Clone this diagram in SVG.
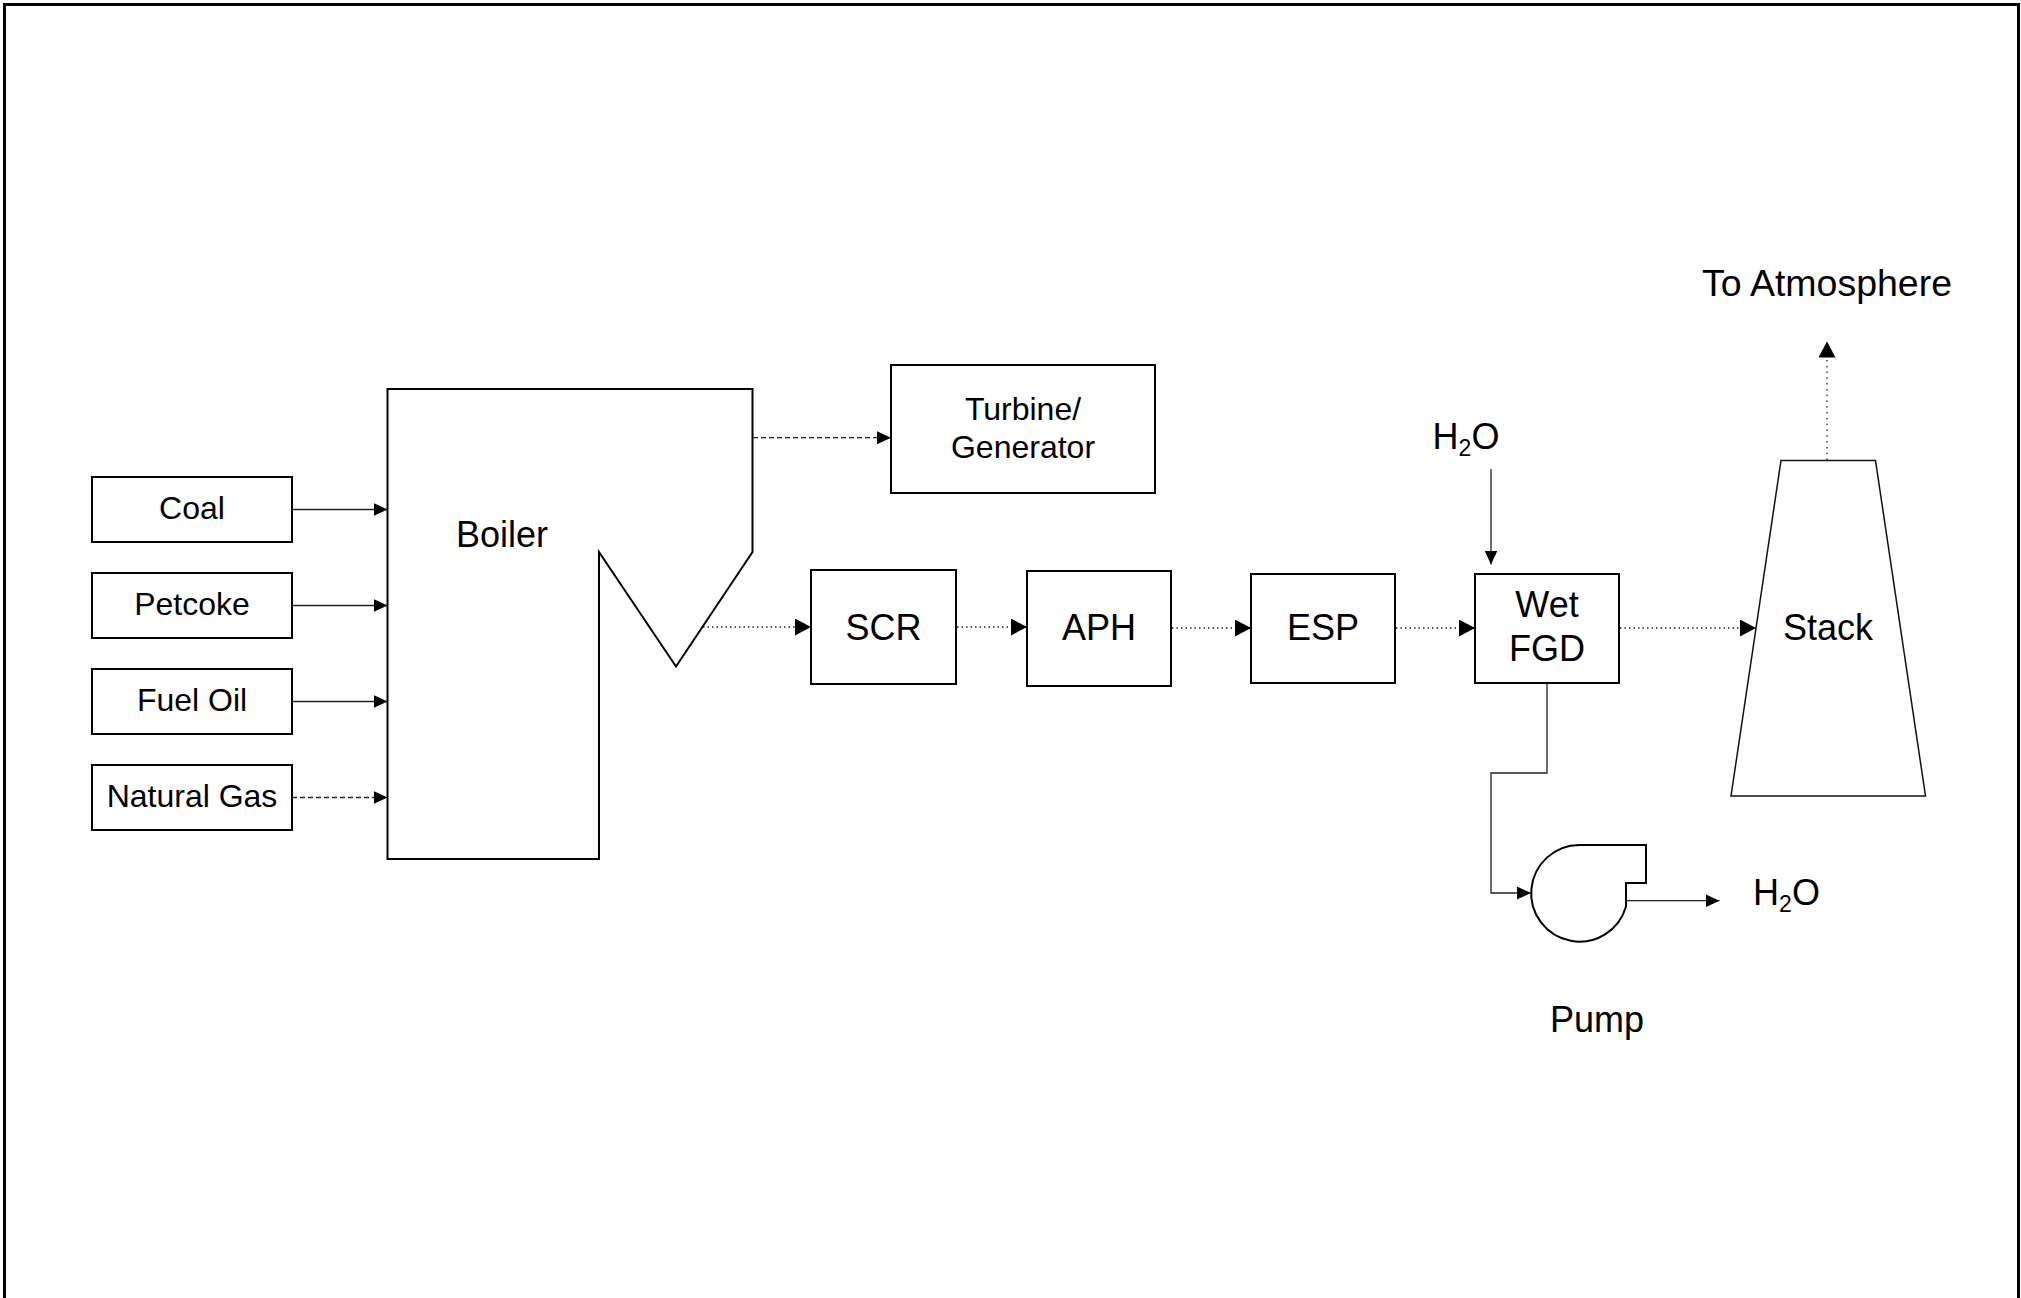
<svg xmlns="http://www.w3.org/2000/svg" width="2021" height="1298" viewBox="0 0 2021 1298">
<style>
.box{fill:#fff;stroke:#000;stroke-width:2}
.thin{fill:#fff;stroke:#111;stroke-width:1.5}
.t{font-family:"Liberation Sans",Arial,sans-serif;fill:#000;text-anchor:middle}
.f32{font-size:32px}
.f36{font-size:36px}
.ln{fill:none;stroke:#222;stroke-width:1.3}
.dash{stroke-dasharray:5 3}
.dot{stroke-dasharray:1.5 3}
.dotv{stroke-dasharray:1.5 4.3}
</style>
<defs>
<marker id="as" markerUnits="userSpaceOnUse" markerWidth="14" markerHeight="14" refX="14" refY="7" orient="auto"><path d="M0,0.5 L14,7 L0,13.5 Z" fill="#000"/></marker>
<marker id="al" markerUnits="userSpaceOnUse" markerWidth="16" markerHeight="17" refX="16" refY="8.5" orient="auto"><path d="M0,0 L16,8.5 L0,17 Z" fill="#000"/></marker>
</defs>
<rect x="0" y="0" width="2021" height="1298" fill="#fff"/>
<rect x="4.5" y="4.5" width="2014" height="1300" fill="none" stroke="#000" stroke-width="3"/>

<g id="connectors">
<path class="ln" d="M292,509.5 H387.5" marker-end="url(#as)"/>
<path class="ln" d="M292,605.5 H387.5" marker-end="url(#as)"/>
<path class="ln" d="M292,701.5 H387.5" marker-end="url(#as)"/>
<path class="ln dash" d="M292,797.5 H387.5" marker-end="url(#as)"/>
<path class="ln dash" d="M753,437.7 H891" marker-end="url(#as)"/>
<path class="ln dot" d="M703,627 H811" marker-end="url(#al)"/>
<path class="ln dot" d="M957,627 H1027" marker-end="url(#al)"/>
<path class="ln dot" d="M1172,628 H1251" marker-end="url(#al)"/>
<path class="ln dot" d="M1396,628 H1475" marker-end="url(#al)"/>
<path class="ln dot" d="M1620,628 H1756" marker-end="url(#al)"/>
<path class="ln dotv" d="M1827,460 V341.5" marker-end="url(#al)"/>
<path class="ln" d="M1491,469 V564.5" stroke="#444" marker-end="url(#as)"/>
<path class="ln" d="M1547,683 V773 H1491 V893 H1531" stroke="#444" marker-end="url(#as)"/>
<path class="ln" d="M1626,900.7 H1719.5" marker-end="url(#as)"/>
</g>

<g id="coal"><rect class="box" x="92" y="477" width="200" height="65"/><text class="t f32" x="192" y="518.5">Coal</text></g>
<g id="petcoke"><rect class="box" x="92" y="573" width="200" height="65"/><text class="t f32" x="192" y="614.5">Petcoke</text></g>
<g id="fueloil"><rect class="box" x="92" y="669" width="200" height="65"/><text class="t f32" x="192" y="710.5">Fuel Oil</text></g>
<g id="naturalgas"><rect class="box" x="92" y="765" width="200" height="65"/><text class="t f32" x="192" y="806.5">Natural Gas</text></g>

<g id="boiler"><path class="box" d="M387.5,389 H752.5 V552 L676,666.5 L599,552 V859 H387.5 Z"/><text class="t f36" x="502" y="547">Boiler</text></g>

<g id="turbine"><rect class="box" x="891" y="365" width="264" height="128"/><text class="t f32" x="1023" y="420">Turbine/</text><text class="t f32" x="1023" y="458">Generator</text></g>

<g id="scr"><rect class="box" x="811" y="570" width="145" height="114"/><text class="t f36" x="883.5" y="640">SCR</text></g>
<g id="aph"><rect class="box" x="1027" y="571" width="144" height="115"/><text class="t f36" x="1099" y="640">APH</text></g>
<g id="esp"><rect class="box" x="1251" y="574" width="144" height="109"/><text class="t f36" x="1323" y="640">ESP</text></g>
<g id="wetfgd"><rect class="box" x="1475" y="574" width="144" height="109"/><text class="t f36" x="1547" y="617">Wet</text><text class="t f36" x="1547" y="661">FGD</text></g>

<g id="stack"><polygon class="thin" points="1781,460.5 1875.5,460.5 1925.5,796 1731,796"/><text class="t f36" x="1828" y="640">Stack</text></g>
<g id="atmosphere"><text class="t" font-size="37.5" x="1827" y="296">To Atmosphere</text></g>

<g id="h2o-in"><text class="t f36" x="1466" y="449">H<tspan font-size="23" dy="7">2</tspan><tspan dy="-7">O</tspan></text></g>

<g id="pump"><path class="box" d="M1579.5,845 A48.3,48.3 0 1 0 1626,906.4 L1626,883 H1646 V845 Z"/><text class="t f36" x="1597" y="1032">Pump</text></g>

<g id="h2o-out"><text class="t f36" x="1786.5" y="905">H<tspan font-size="23" dy="7">2</tspan><tspan dy="-7">O</tspan></text></g>
</svg>
